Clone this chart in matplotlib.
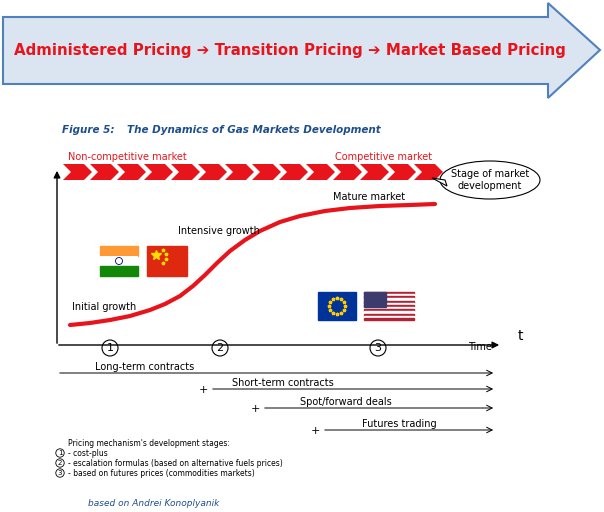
import matplotlib.pyplot as plt
from matplotlib.patches import Polygon, Rectangle, Circle, Ellipse
import numpy as np

# S-curve of market development (pixel coords)
curve_x = [70, 90, 110, 130, 150, 165, 180, 193, 205, 217, 230, 245, 260, 280, 300, 325, 350, 380, 410, 435]
curve_y = [325, 323, 320, 316, 310, 304, 296, 286, 275, 263, 251, 240, 231, 222, 216, 211, 208, 206, 205, 204]

stage_x = [110, 220, 378]
stage_labels = ['1', '2', '3']
contract_labels = ['Long-term contracts', 'Short-term contracts', 'Spot/forward deals', 'Futures trading']
contract_start = [57, 210, 262, 322]
contract_y = [373, 389, 408, 430]
contract_text_x = [95, 232, 300, 362]
legend_lines = ["Pricing mechanism's development stages:", '- cost-plus',
                '- escalation formulas (based on alternative fuels prices)',
                '- based on futures prices (commodities markets)']

fig = plt.figure(figsize=(6.04, 5.12), dpi=100)
ax = fig.add_axes([0, 0, 1, 1])
ax.set_xlim(0, 604)
ax.set_ylim(512, 0)
ax.axis('off')

# banner arrow
ax.add_patch(Polygon([(3, 17), (548, 17), (548, 3), (600, 50), (548, 98), (548, 84), (3, 84)],
                     closed=True, facecolor='#dbe5f1', edgecolor='#4f81bd', lw=1.5))
ax.text(290, 50, 'Administered Pricing \u2794 Transition Pricing \u2794 Market Based Pricing',
        color='#e8141c', fontsize=10.8, fontweight='bold', ha='center', va='center')

ax.text(62, 130, 'Figure 5:', color='#1f4e8c', fontsize=7.5, style='italic', fontweight='bold', va='center')
ax.text(127, 130, 'The Dynamics of Gas Markets Development', color='#1f4e8c', fontsize=7.5,
        style='italic', fontweight='bold', va='center')

# chevrons
w = 27
for i in range(14):
    x0 = 63 + i * w
    ax.add_patch(Polygon([(x0, 164), (x0 + w - 6, 164), (x0 + w + 2, 172), (x0 + w - 6, 180),
                          (x0, 180), (x0 + 8, 172)], closed=True, facecolor='#e8141c', edgecolor='none'))
ax.text(68, 157, 'Non-competitive market', color='#e8141c', fontsize=7, va='center')
ax.text(335, 157, 'Competitive market', color='#e8141c', fontsize=7, va='center')

ax.add_patch(Ellipse((490, 180), 100, 38, facecolor='white', edgecolor='black', lw=0.8))
ax.add_patch(Polygon([(445, 180), (432, 178), (447, 186)], facecolor='white', edgecolor='black', lw=0.8))
ax.text(490, 180, 'Stage of market\ndevelopment', fontsize=7, ha='center', va='center')

# axes
ax.annotate('', xy=(57, 168), xytext=(57, 346), arrowprops=dict(arrowstyle='-|>', lw=1, color='black'))
ax.annotate('', xy=(502, 345), xytext=(56, 345), arrowprops=dict(arrowstyle='-|>', lw=1, color='black'))
ax.text(520, 336, 't', fontsize=10, ha='center', va='center')
ax.text(468, 347, 'Time', fontsize=7, va='center')

ax.plot(curve_x, curve_y, color='#e8141c', lw=3, solid_capstyle='round', solid_joinstyle='round')
ax.text(72, 307, 'Initial growth', fontsize=7, va='center')
ax.text(178, 231, 'Intensive growth', fontsize=7, va='center')
ax.text(333, 197, 'Mature market', fontsize=7, va='center')

# flags
ax.add_patch(Rectangle((100, 246), 38, 10, color='#ff9933'))
ax.add_patch(Rectangle((100, 256), 38, 10, facecolor='white', edgecolor='none'))
ax.add_patch(Rectangle((100, 266), 38, 10, color='#138808'))
ax.add_patch(Circle((119, 261), 3.5, facecolor='none', edgecolor='#000080', lw=0.6))
ax.add_patch(Rectangle((147, 246), 40, 30, color='#de2910'))
ax.plot([156], [255], marker='*', color='#ffde00', ms=7)
for sx, sy in [(163, 250), (166, 254), (166, 259), (163, 263)]:
    ax.plot([sx], [sy], marker='*', color='#ffde00', ms=2.5)
ax.add_patch(Rectangle((318, 292), 38, 28, color='#003399'))
for a in np.linspace(0, 2 * np.pi, 12, endpoint=False):
    ax.plot([337 + 8 * np.cos(a)], [306 + 8 * np.sin(a)], marker='*', color='#ffcc00', ms=2.5)
for k in range(13):
    ax.add_patch(Rectangle((364, 292 + k * 28 / 13), 50, 28 / 13,
                           color='#b22234' if k % 2 == 0 else 'white'))
ax.add_patch(Rectangle((364, 292), 22, 15, color='#3c3b6e'))

# stage circles
for sx, lab in zip(stage_x, stage_labels):
    ax.add_patch(Circle((sx, 348), 8, facecolor='white', edgecolor='black', lw=0.8))
    ax.text(sx, 348, lab, fontsize=8, ha='center', va='center')

# contracts
for lab, xs, y, tx in zip(contract_labels, contract_start, contract_y, contract_text_x):
    ax.annotate('', xy=(496, y), xytext=(xs, y), arrowprops=dict(arrowstyle='->', lw=0.7, color='black'))
    ax.text(tx, y - 6, lab, fontsize=7, va='center')
    if xs > 57:
        ax.text(xs - 7, y + 1, '+', fontsize=8, ha='center', va='center')

# legend
for k, line in enumerate(legend_lines):
    ax.text(68, 443 + k * 10, line, fontsize=5.5, va='center')
for k in range(3):
    ax.add_patch(Circle((60, 453 + k * 10), 4.2, facecolor='white', edgecolor='black', lw=0.6))
    ax.text(60, 453 + k * 10, str(k + 1), fontsize=5, ha='center', va='center')

ax.text(88, 503, 'based on Andrei Konoplyanik', color='#1f4e8c', fontsize=6.5, style='italic', va='center')

fig.savefig('out.png', dpi=100)
